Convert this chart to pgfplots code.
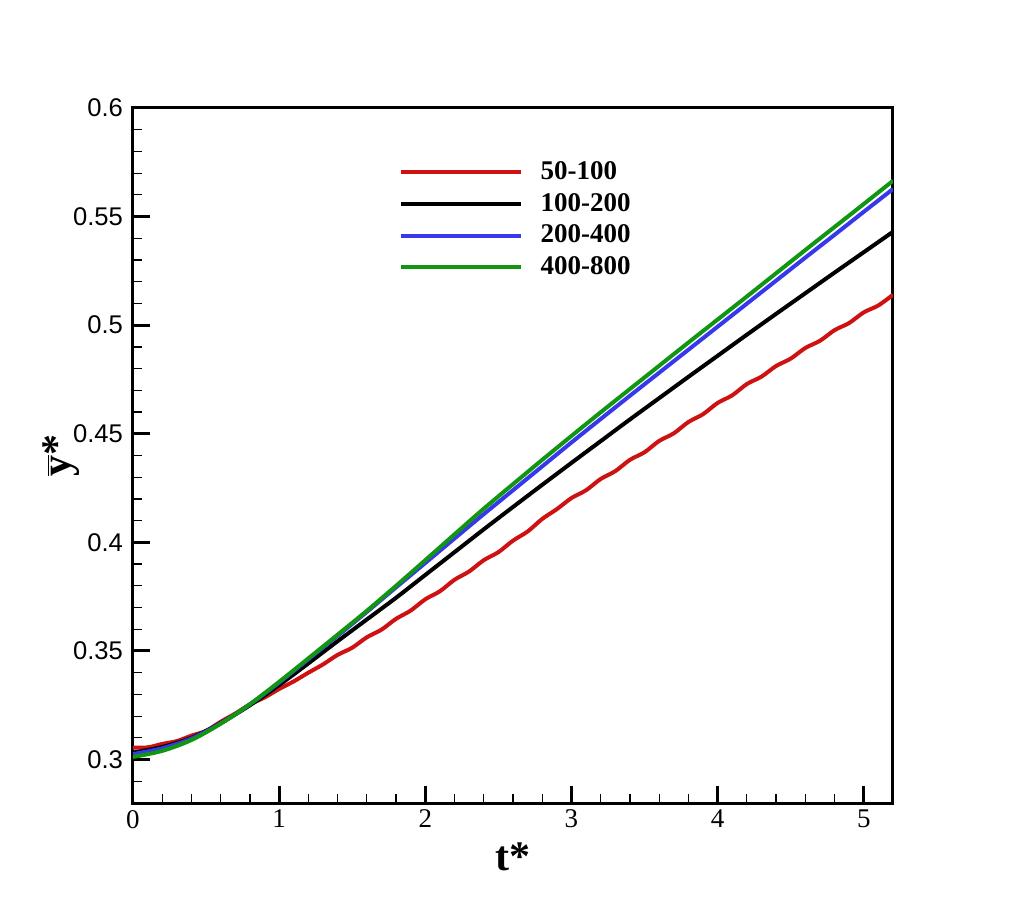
\documentclass[border=0pt]{standalone}
\usepackage{fontspec}
\setmainfont{Liberation Serif}
\newfontfamily\arialfont{Liberation Sans}
\usepackage{pgfplots}
\pgfplotsset{compat=1.18}
\definecolor{cred}{RGB}{206,18,18}
\definecolor{cblue}{RGB}{55,55,235}
\definecolor{cgreen}{RGB}{16,150,16}
\begin{document}
\begin{tikzpicture}
\useasboundingbox (-66.5pt,-50.5pt) rectangle (442pt,401.5pt);
\begin{axis}[
  scale only axis, width=380pt, height=347.5pt,
  xmin=0, xmax=5.2, ymin=0.28, ymax=0.6,
  /pgf/number format/assume math mode=true,
  xtick={0,1,2,3,4,5},
  minor xtick={0.2,0.4,0.6,0.8,1.2,1.4,1.6,1.8,2.2,2.4,2.6,2.8,3.2,3.4,3.6,3.8,4.2,4.4,4.6,4.8,5.0},
  ytick={0.3,0.35,0.4,0.45,0.5,0.55,0.6},
  yticklabels={0.3,0.35,0.4,0.45,0.5,0.55,0.6},
  minor ytick={0.29,0.31,0.32,0.33,0.34,0.36,0.37,0.38,0.39,0.41,0.42,0.43,0.44,0.46,0.47,0.48,0.49,0.51,0.52,0.53,0.54,0.56,0.57,0.58,0.59},
  xtick pos=bottom, ytick pos=left, tick align=inside,
  major tick length=8.5pt, minor tick length=4.5pt,
  major tick style={line width=1.5pt, black},
  minor tick style={line width=0.6pt, black},
  axis line style={line width=1.5pt},
  xticklabel style={font=\fontsize{13.5}{15}\selectfont},
  yticklabel style={font=\arialfont\fontsize{12.8}{14}\selectfont, xshift=-1.5pt},
  xlabel={t*},
  ylabel={$\overline{\mbox{y}}$*},
  xlabel style={font=\bfseries\fontsize{21}{24}\selectfont, at={(axis description cs:0.5,-0.078)}, anchor=center},
  ylabel style={font=\bfseries\fontsize{21}{24}\selectfont, at={(axis description cs:-0.095,0.5)}, anchor=center, rotate=0},
  legend style={at={(axis description cs:0.349,0.927)}, anchor=north west, draw=none, fill=none, inner sep=0pt,
    font=\bfseries\fontsize{13.5}{15}\selectfont, row sep=3.5pt,
    nodes={inner xsep=9pt, inner ysep=1pt}},
  legend cell align=left,
  legend image code/.code={\draw[#1] (0pt,0pt) -- (60pt,0pt);},
  every axis plot/.append style={line width=2pt, smooth},
]
\addplot[cred] coordinates {
(0,0.3055)(0.1,0.3056)(0.2,0.3072)(0.3,0.3085)(0.4,0.3110)(0.5,0.3132)(0.6,0.3174)(0.7,0.3212)(0.8,0.3254)(0.9,0.3286)
(1.0,0.3325)(1.1,0.3360)(1.2,0.3400)(1.3,0.3438)(1.4,0.3482)(1.5,0.3515)(1.6,0.3563)(1.7,0.3598)(1.8,0.3648)(1.9,0.3686)
(2.0,0.3738)(2.1,0.3775)(2.2,0.3828)(2.3,0.3866)(2.4,0.3918)(2.5,0.3955)(2.6,0.4008)(2.7,0.4050)(2.8,0.4108)(2.9,0.4153)
(3.0,0.4204)(3.1,0.4240)(3.2,0.4292)(3.3,0.4328)(3.4,0.4380)(3.5,0.4415)(3.6,0.4467)(3.7,0.4502)(3.8,0.4554)(3.9,0.4590)
(4.0,0.4642)(4.1,0.4677)(4.2,0.4729)(4.3,0.4763)(4.4,0.4812)(4.5,0.4846)(4.6,0.4895)(4.7,0.4928)(4.8,0.4977)(4.9,0.5010)
(5.0,0.5059)(5.1,0.5091)(5.2,0.5140)};
\addlegendentry{50-100}
\addplot[black] coordinates {
(0,0.3032)(0.2,0.3058)(0.4,0.3100)(0.6,0.3168)(0.8,0.3250)(1.0,0.3343)(1.2,0.3443)(1.4,0.3545)(1.6,0.3645)(1.8,0.3745)
(2.0,0.3850)(2.2,0.3955)(2.4,0.4060)(2.6,0.4163)(2.8,0.4265)(3.0,0.4366)(3.2,0.4466)(3.4,0.4566)(3.6,0.4664)(3.8,0.4762)
(4.0,0.4859)(4.2,0.4956)(4.4,0.5052)(4.6,0.5147)(4.8,0.5242)(5.0,0.5336)(5.2,0.5430)};
\addlegendentry{100-200}
\addplot[cblue] coordinates {
(0,0.3025)(0.2,0.3052)(0.4,0.3097)(0.6,0.3167)(0.8,0.3254)(1.0,0.3354)(1.2,0.3462)(1.4,0.3570)(1.6,0.3680)(1.8,0.3793)
(2.0,0.3905)(2.2,0.4018)(2.4,0.4130)(2.6,0.4240)(2.8,0.4350)(3.0,0.4460)(3.2,0.4568)(3.4,0.4675)(3.6,0.4781)(3.8,0.4887)
(4.0,0.4993)(4.2,0.5099)(4.4,0.5205)(4.6,0.5311)(4.8,0.5416)(5.0,0.5522)(5.2,0.5627)};
\addlegendentry{200-400}
\addplot[cgreen] coordinates {
(0,0.3012)(0.2,0.3040)(0.4,0.3090)(0.6,0.3165)(0.8,0.3255)(1.0,0.3358)(1.2,0.3466)(1.4,0.3575)(1.6,0.3685)(1.8,0.3800)
(2.0,0.3918)(2.2,0.4037)(2.4,0.4155)(2.6,0.4268)(2.8,0.4380)(3.0,0.4490)(3.2,0.4599)(3.4,0.4706)(3.6,0.4813)(3.8,0.4920)
(4.0,0.5026)(4.2,0.5132)(4.4,0.5239)(4.6,0.5346)(4.8,0.5452)(5.0,0.5558)(5.2,0.5665)};
\addlegendentry{400-800}
\end{axis}
\end{tikzpicture}
\end{document}
